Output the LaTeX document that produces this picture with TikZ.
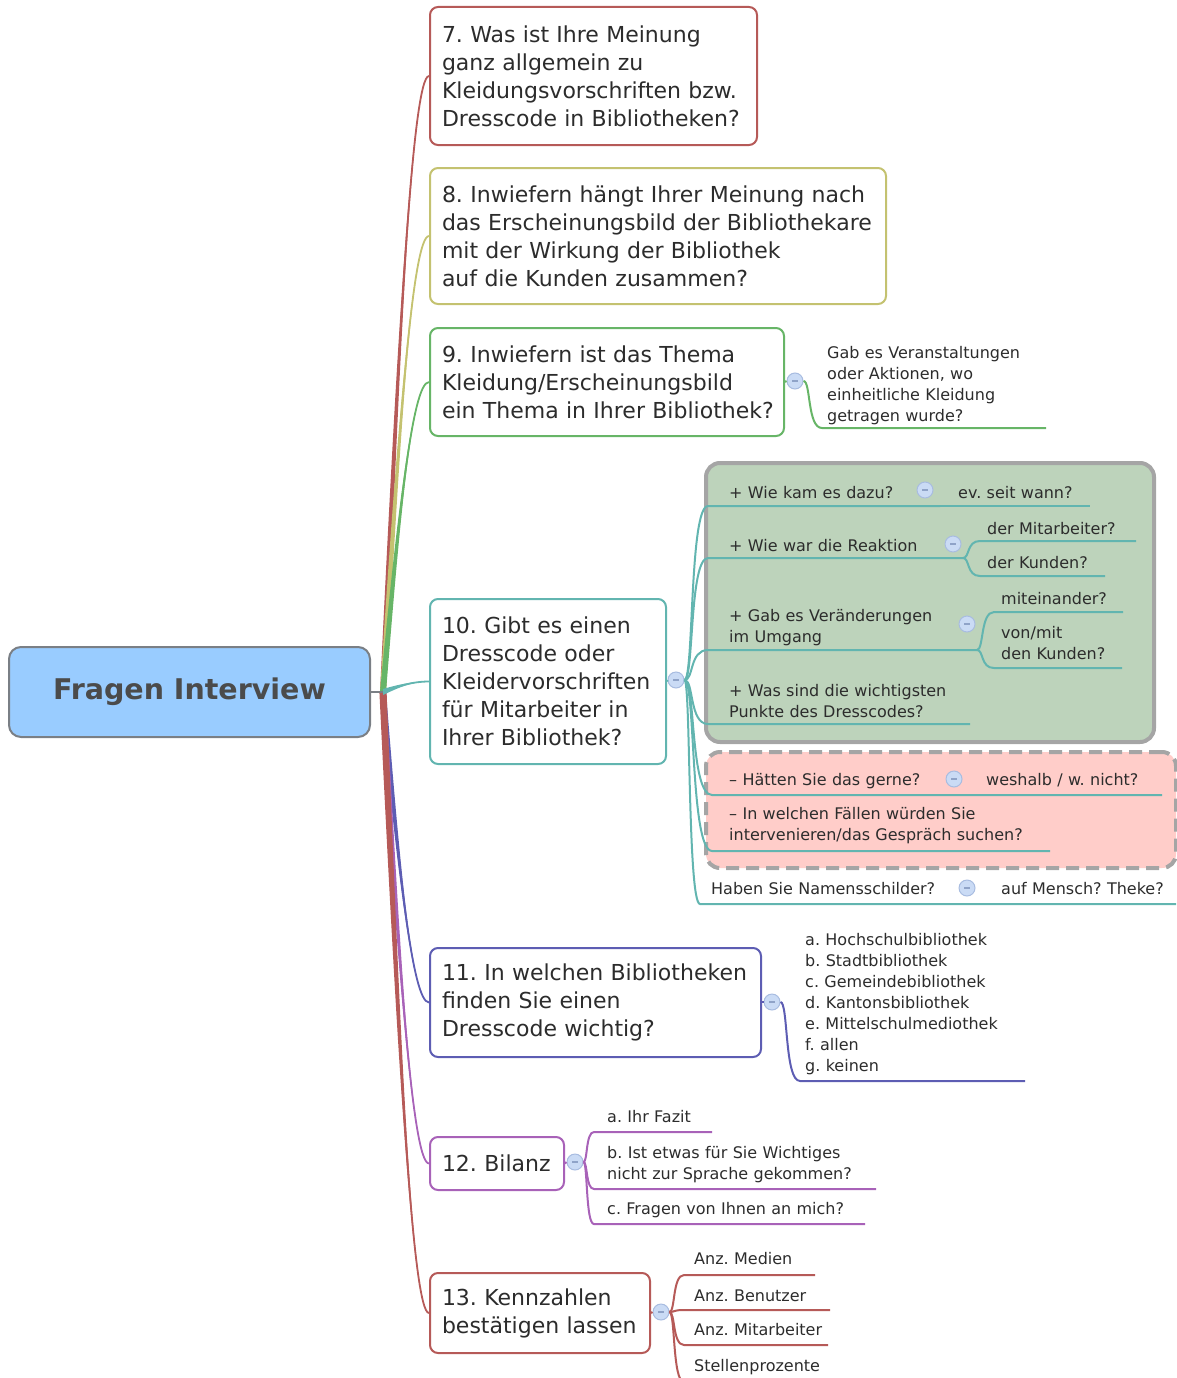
\documentclass[tikz,border=0pt]{standalone}
\usepackage{fontspec}
\setmainfont{DejaVu Sans}
\usetikzlibrary{calc}
\frenchspacing
\definecolor{cRed}{HTML}{B65A58}
\definecolor{cOlive}{HTML}{C4C270}
\definecolor{cGreen}{HTML}{67B567}
\definecolor{cTeal}{HTML}{62B5B0}
\definecolor{cBlue}{HTML}{5D5DB3}
\definecolor{cViolet}{HTML}{A862B8}
\definecolor{rootFill}{HTML}{99CCFF}
\definecolor{rootLine}{HTML}{7A7F85}
\definecolor{rootTxt}{HTML}{4B4B4B}
\definecolor{txt}{HTML}{2C2C2C}
\definecolor{grpGreen}{HTML}{BDD3BB}
\definecolor{grpPink}{HTML}{FFCDC9}
\definecolor{grpLine}{HTML}{A5A5A5}
\definecolor{circFill}{HTML}{CADBF5}
\definecolor{circLine}{HTML}{A8BCE0}
\definecolor{minusC}{HTML}{8FA3C8}
\newcommand\bigfnt{\fontsize{22}{28}\selectfont}
\newcommand\smfnt{\fontsize{16}{21}\selectfont}
\newcommand\rootfnt{\fontsize{28.5}{34}\selectfont\bfseries}
\newcommand\ml[1]{\mbox{#1}}
% tapered main branch: #1 colour, #2 target anchor, #3 half-width offset at the hub
\newcommand\mainbranch[3]{%
  \path (hub) coordinate (p0)
    ($(hub)!0.55!(hub|-#2)+(15,0)$) coordinate (p1)
    ($(#2)+(-17,0)$) coordinate (p2)
    (#2) coordinate (p3);
  \fill[#1] ($(p0)-#3$) .. controls ($(p1)-0.55*#3$) and (p2) .. (p3)
     .. controls (p2) and ($(p1)+0.55*#3$) .. ($(p0)+#3$) -- cycle;
  \draw[#1, line width=1.8] (p0) .. controls (p1) and (p2) .. (p3);
}
\newcommand\subbr[4]{\draw[#1] (#2) .. controls ($(#2)!0.4!(#3|-#2)$) and ($(#2|-#3)!0.2!(#3)$) .. (#3) -- (#4);}
\begin{document}
\begin{tikzpicture}[x=1pt,y=-1pt,
  qbox/.style={draw, line width=2, rounded corners=8, fill=white, anchor=north west,
    inner xsep=12, inner ysep=0, align=left, font=\bigfnt, text=txt},
  rootbox/.style={draw=rootLine, fill=rootFill, line width=2, rounded corners=12,
    minimum width=361, minimum height=90, font=\rootfnt, text=rootTxt},
  grp/.style={draw=grpLine, line width=4, rounded corners=14, anchor=north west, inner sep=0},
  sub/.style={anchor=base west, inner sep=0, align=left, text width=420pt, font=\smfnt, text=txt},
  circ/.style={circle, draw=circLine, fill=circFill, line width=1, minimum size=16, inner sep=0},
  gline/.style={cGreen, line width=2},
  tline/.style={cTeal, line width=2},
  bline/.style={cBlue, line width=2},
  vline/.style={cViolet, line width=2},
  rline/.style={cRed, line width=2}]
\useasboundingbox (0,0) rectangle (1176,1378);

% root
\node[rootbox] (root) at (189.5,692) {Fragen Interview};
\coordinate (hub) at (383,692);

% question boxes
\node[qbox, draw=cRed, text width=303pt, minimum height=138] (b7) at (429,6)
  {\ml{7. Was ist Ihre Meinung}\\\ml{ganz allgemein zu}\\\ml{Kleidungsvorschriften bzw.}\\\ml{Dresscode in Bibliotheken?}};
\node[qbox, draw=cOlive, text width=432pt, minimum height=136] (b8) at (429,167)
  {\ml{8. Inwiefern hängt Ihrer Meinung nach}\\\ml{das Erscheinungsbild der Bibliothekare}\\\ml{mit der Wirkung der Bibliothek}\\\ml{auf die Kunden zusammen?}};
\node[qbox, draw=cGreen, text width=330pt, minimum height=108] (b9) at (429,327)
  {\ml{9. Inwiefern ist das Thema}\\\ml{Kleidung/Erscheinungsbild}\\\ml{ein Thema in Ihrer Bibliothek?}};
\node[qbox, draw=cTeal, text width=212pt, minimum height=165] (b10) at (429,598)
  {\ml{10. Gibt es einen}\\\ml{Dresscode oder}\\\ml{Kleidervorschriften}\\\ml{für Mitarbeiter in}\\\ml{Ihrer Bibliothek?}};
\node[qbox, draw=cBlue, text width=307pt, minimum height=109] (b11) at (429,947)
  {\ml{11. In welchen Bibliotheken}\\\ml{finden Sie einen}\\\ml{Dresscode wichtig?}};
\node[qbox, draw=cViolet, text width=110pt, minimum height=53] (b12) at (429,1136)
  {\ml{12. Bilanz}};
\node[qbox, draw=cRed, text width=196pt, minimum height=80] (b13) at (429,1272)
  {\ml{13. Kennzahlen}\\\ml{bestätigen lassen}};

% main branches
\mainbranch{cRed}{b7.west}{(3,0)}
\mainbranch{cOlive}{b8.west}{(3,0)}
\mainbranch{cGreen}{b9.west}{(3,0)}
\mainbranch{cBlue}{b11.west}{(3,0)}
\mainbranch{cViolet}{b12.west}{(3,0)}
\mainbranch{cRed}{b13.west}{(3.6,0)}
\mainbranch{cTeal}{b10.west}{(0,3)}
\draw[rootLine, line width=2] (root.east) -- (hub);

% collapse circles of the question boxes
\node[circ] (c9) at (795,381) {\color{minusC}\rule{6pt}{1.6pt}};
\node[circ] (c10) at (676,680) {\color{minusC}\rule{6pt}{1.6pt}};
\node[circ] (c11) at (772,1002) {\color{minusC}\rule{6pt}{1.6pt}};
\node[circ] (c12) at (575,1162) {\color{minusC}\rule{6pt}{1.6pt}};
\node[circ] (c13) at (661,1312) {\color{minusC}\rule{6pt}{1.6pt}};
\draw[gline] (b9.east) -- (c9.west);
\draw[tline] (b10.east) -- (c10.west);
\draw[bline] (b11.east|-c11) -- (c11.west);
\draw[vline] (b12.east) -- (c12.west);
\draw[rline] (b13.east) -- (c13.west);

% ---- box 9 child
\coordinate (u9s) at (822,428); \coordinate (u9e) at (1046,428);
\subbr{gline}{c9.east}{u9s}{u9e}
\node[sub] (t9) at (827,358) {Gab es Veranstaltungen\\oder Aktionen, wo\\einheitliche Kleidung\\getragen wurde?};

% ---- box 10 groups
\node[grp, fill=grpGreen, minimum width=448, minimum height=279] (grpA) at (704,461) {};
\node[grp, fill=grpPink, dash pattern=on 13pt off 7pt, minimum width=470, minimum height=116] (grpB) at (704,750) {};

\coordinate (a1s) at (708,506); \coordinate (a1m) at (940,506); \coordinate (a1e) at (1090,506);
\subbr{tline}{c10.east}{a1s}{a1m}
\draw[tline] (a1m) -- (a1e);
\node[sub] (g1) at (729,498) {+ Wie kam es dazu?};
\node[circ] (k1) at (925,490) {\color{minusC}\rule{6pt}{1.6pt}};
\node[sub] (g1a) at (958,498) {ev. seit wann?};

\coordinate (a2s) at (708,558); \coordinate (a2m) at (963,558);
\coordinate (a2as) at (980,541); \coordinate (a2ae) at (1136,541);
\coordinate (a2bs) at (980,576); \coordinate (a2be) at (1105,576);
\subbr{tline}{c10.east}{a2s}{a2m}
\subbr{tline}{a2m}{a2as}{a2ae}
\subbr{tline}{a2m}{a2bs}{a2be}
\node[sub] (g2) at (729,551) {+ Wie war die Reaktion};
\node[circ] (k2) at (953,544) {\color{minusC}\rule{6pt}{1.6pt}};
\node[sub] (g2a) at (987,534) {der Mitarbeiter?};
\node[sub] (g2b) at (987,568) {der Kunden?};

\coordinate (a3s) at (708,650); \coordinate (a3m) at (977,650);
\coordinate (a3as) at (994,612); \coordinate (a3ae) at (1123,612);
\coordinate (a3bs) at (994,668); \coordinate (a3be) at (1122,668);
\subbr{tline}{c10.east}{a3s}{a3m}
\subbr{tline}{a3m}{a3as}{a3ae}
\subbr{tline}{a3m}{a3bs}{a3be}
\node[sub] (g3) at (729,621) {+ Gab es Veränderungen\\im Umgang};
\node[circ] (k3) at (967,624) {\color{minusC}\rule{6pt}{1.6pt}};
\node[sub] (g3a) at (1001,604) {miteinander?};
\node[sub] (g3b) at (1001,638) {von/mit\\den Kunden?};

\coordinate (a4s) at (708,724); \coordinate (a4e) at (970,724);
\subbr{tline}{c10.east}{a4s}{a4e}
\node[sub] (g4) at (729,696) {+ Was sind die wichtigsten\\Punkte des Dresscodes?};

\coordinate (b1s) at (712,795); \coordinate (b1e) at (1162,795);
\subbr{tline}{c10.east}{b1s}{b1e}
\node[sub] (p1) at (729,785) {– Hätten Sie das gerne?};
\node[circ] (k4) at (954,779) {\color{minusC}\rule{6pt}{1.6pt}};
\node[sub] (p1a) at (986,785) {weshalb / w. nicht?};

\coordinate (b2s) at (712,851); \coordinate (b2e) at (1050,851);
\subbr{tline}{c10.east}{b2s}{b2e}
\node[sub] (p2) at (729,819) {– In welchen Fällen würden Sie\\intervenieren/das Gespräch suchen?};

\coordinate (n1s) at (700,904); \coordinate (n1e) at (1176,904);
\subbr{tline}{c10.east}{n1s}{n1e}
\node[sub] (n1) at (711,894) {Haben Sie Namensschilder?};
\node[circ] (k5) at (967,888) {\color{minusC}\rule{6pt}{1.6pt}};
\node[sub] (n1a) at (1001,894) {auf Mensch? Theke?};

% ---- box 11 child
\coordinate (u11s) at (800,1081); \coordinate (u11e) at (1025,1081);
\subbr{bline}{c11.east}{u11s}{u11e}
\node[sub] (t11) at (805,945) {a. Hochschulbibliothek\\b. Stadtbibliothek\\c. Gemeindebibliothek\\d. Kantonsbibliothek\\e. Mittelschulmediothek\\f. allen\\g. keinen};

% ---- box 12 children
\coordinate (v1s) at (594,1132); \coordinate (v1e) at (712,1132);
\coordinate (v2s) at (594,1189); \coordinate (v2e) at (876,1189);
\coordinate (v3s) at (594,1224); \coordinate (v3e) at (865,1224);
\subbr{vline}{c12.east}{v1s}{v1e}
\subbr{vline}{c12.east}{v2s}{v2e}
\subbr{vline}{c12.east}{v3s}{v3e}
\node[sub] (t12a) at (607,1122) {a. Ihr Fazit};
\node[sub] (t12b) at (607,1158) {b. Ist etwas für Sie Wichtiges\\nicht zur Sprache gekommen?};
\node[sub] (t12c) at (607,1214) {c. Fragen von Ihnen an mich?};

% ---- box 13 children
\coordinate (w1s) at (684,1275); \coordinate (w1e) at (815,1275);
\coordinate (w2s) at (684,1310); \coordinate (w2e) at (830,1310);
\coordinate (w3s) at (684,1345); \coordinate (w3e) at (828,1345);
\coordinate (w4s) at (684,1382); \coordinate (w4e) at (840,1382);
\subbr{rline}{c13.east}{w1s}{w1e}
\subbr{rline}{c13.east}{w2s}{w2e}
\subbr{rline}{c13.east}{w3s}{w3e}
\subbr{rline}{c13.east}{w4s}{w4e}
\node[sub] (t13a) at (694,1264) {Anz. Medien};
\node[sub] (t13b) at (694,1301) {Anz. Benutzer};
\node[sub] (t13c) at (694,1335) {Anz. Mitarbeiter};
\node[sub] (t13d) at (694,1371) {Stellenprozente};
\end{tikzpicture}
\end{document}
